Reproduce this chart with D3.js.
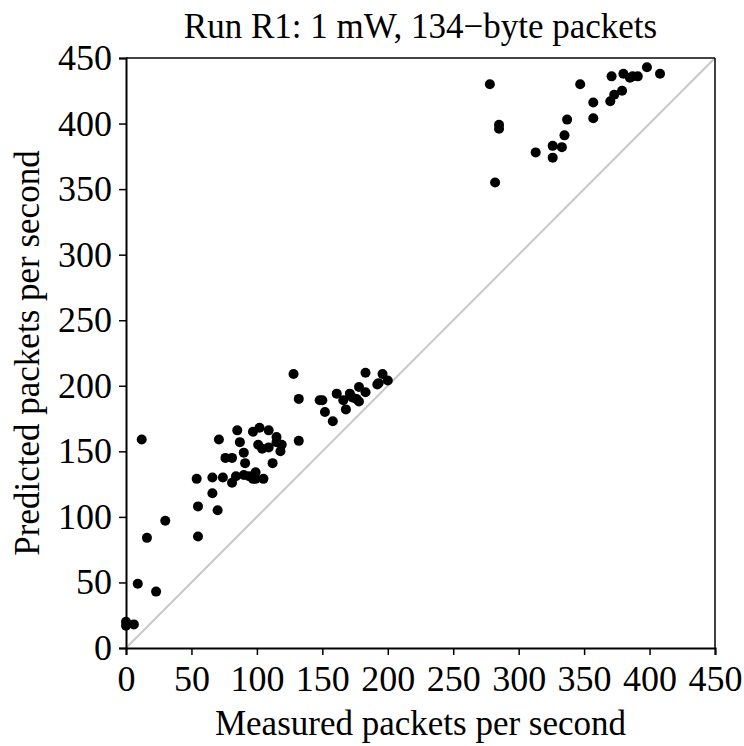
<!DOCTYPE html>
<html>
<head>
<meta charset="utf-8">
<script src="https://cdn.jsdelivr.net/npm/d3@7"></script>
<style>
  body { margin: 0; background: #fff; }
  text { font-family: "Liberation Serif", "DejaVu Serif", serif; }
</style>
</head>
<body>
<div id="chart"></div>
<script>
// Measured vs predicted packet rates
const measured = [0, 0, 6, 9, 23, 12, 16, 30, 54, 55, 55, 66, 70, 66, 71, 74, 76, 81, 81, 84,
  85, 87, 90, 91, 90, 94, 97, 99, 99, 105, 97, 102, 109, 101, 104, 109, 115, 115, 119, 118,
  112, 128, 132, 132, 148, 150, 152, 158, 161, 166, 168, 171, 173, 176, 178, 178, 183, 183,
  192, 193, 196, 200, 278, 285, 285, 282, 313, 326, 326, 333, 335, 337, 347, 357, 357, 370,
  373, 379, 371, 380, 385, 387, 391, 398, 408];
const predicted = [20, 17, 18, 49, 43, 159, 84, 97, 129, 108, 85, 118, 105, 130, 159, 130, 145, 145, 126, 131,
  166, 157, 149, 141, 132, 131, 129, 134, 129, 129, 165, 168, 166, 155, 152, 153, 161, 157, 155, 150,
  141, 209, 190, 158, 189, 189, 180, 173, 194, 189, 182, 194, 191, 190, 188, 199, 210, 195,
  201, 202, 209, 204, 430, 399, 396, 355, 378, 383, 374, 382, 391, 403, 430, 404, 416, 417,
  422, 425, 436, 438, 435, 436, 436, 443, 438];
const ticks = [0, 50, 100, 150, 200, 250, 300, 350, 400, 450];

const margin = {top: 58, right: 29, bottom: 98, left: 126},
      width = 744 - margin.left - margin.right,
      height = 746 - margin.top - margin.bottom;

const svg = d3.select("#chart").append("svg")
    .attr("width", 744)
    .attr("height", 746);

const g = svg.append("g")
    .attr("transform", `translate(${margin.left},${margin.top})`);

const x = d3.scaleLinear().domain([0, 450]).range([0, width]);
const y = d3.scaleLinear().domain([0, 450]).range([height, 0]);

// y = x reference line
g.append("line")
    .attr("x1", x(0)).attr("y1", y(0))
    .attr("x2", x(450)).attr("y2", y(450))
    .attr("stroke", "#c8c8c8")
    .attr("stroke-width", 2);

// frame top and right
g.append("line")
    .attr("x1", 0).attr("x2", width).attr("y1", 0).attr("y2", 0)
    .attr("stroke", "#444").attr("stroke-width", 2);
g.append("line")
    .attr("x1", width).attr("x2", width).attr("y1", 0).attr("y2", height)
    .attr("stroke", "#000").attr("stroke-width", 1.5);

const xAxis = g.append("g")
    .attr("transform", `translate(0,${height})`)
    .call(d3.axisBottom(x).tickValues(ticks).tickSize(7).tickPadding(10).tickFormat(d3.format("d")));
const yAxis = g.append("g")
    .call(d3.axisLeft(y).tickValues(ticks).tickSize(7).tickPadding(7).tickFormat(d3.format("d")));

[xAxis, yAxis].forEach(a => {
  a.select(".domain").attr("stroke", "#000").attr("stroke-width", 2);
  a.selectAll(".tick line").attr("stroke", "#000").attr("stroke-width", 1.5);
  a.selectAll(".tick text")
      .attr("fill", "#000")
      .style("font-family", "'Liberation Serif', serif")
      .style("font-size", "36px");
});

g.selectAll("circle.pt")
    .data(measured.map((m, i) => [m, predicted[i]]))
  .enter().append("circle")
    .attr("class", "pt")
    .attr("cx", d => x(d[0]))
    .attr("cy", d => y(d[1]))
    .attr("r", 5)
    .attr("fill", "#000");

svg.append("text")
    .attr("x", margin.left + width / 2)
    .attr("y", 38)
    .attr("text-anchor", "middle")
    .style("font-size", "35px")
    .text("Run R1: 1 mW, 134\u2212byte packets");

svg.append("text")
    .attr("x", margin.left + width / 2)
    .attr("y", 735)
    .attr("text-anchor", "middle")
    .style("font-size", "35px")
    .text("Measured packets per second");

svg.append("text")
    .attr("transform", `translate(39,${margin.top + height / 2}) rotate(-90)`)
    .attr("text-anchor", "middle")
    .style("font-size", "35px")
    .text("Predicted packets per second");
</script>
</body>
</html>
